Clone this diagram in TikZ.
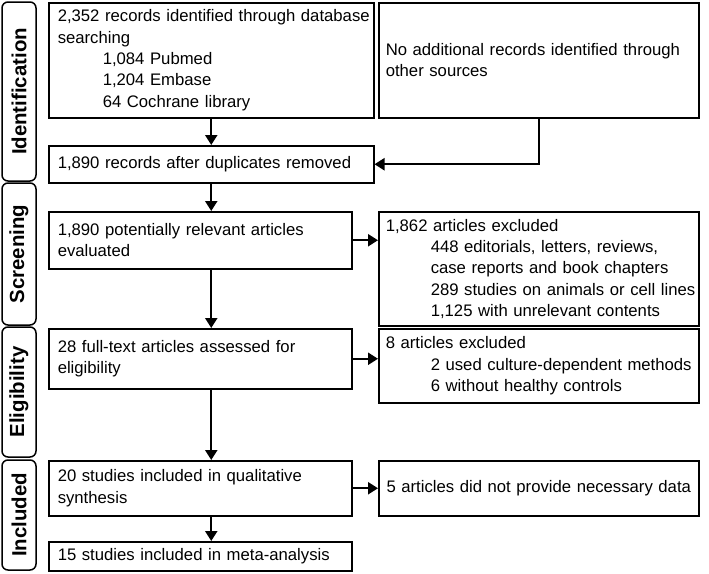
\documentclass[tikz,border=0pt]{standalone}
\usepackage{fontspec}
\setmainfont{Liberation Sans}
\usetikzlibrary{arrows.meta}
\tikzstyle{process} = [rectangle, anchor=north west, draw=black, line width=1.5pt, inner ysep=2pt, align=left, font=\fontsize{16.7pt}{21.3pt}\selectfont]
\tikzstyle{leftcol} = [inner xsep=9pt]
\tikzstyle{rightcol} = [inner xsep=7pt, text width=306pt]
\tikzstyle{phase} = [rectangle, rounded corners=6pt, draw=black, line width=1.5pt, rotate=90, minimum height=34pt, font=\fontsize{20.4pt}{24pt}\selectfont\bfseries]
\tikzstyle{arrow} = [line width=2.2pt, -{Triangle[length=10pt,width=12pt]}]
\newcommand{\ind}{\hspace*{45pt}}

\begin{document}
\begin{tikzpicture}[x=1pt, y=-1pt]
   \useasboundingbox (0,0) rectangle (709,573);

   \node (idf) [phase, minimum width=179pt] at (19,91.5) {Identification};
   \node (scr) [phase, minimum width=142pt] at (19,254) {Screening};
   \node (elg) [phase, minimum width=130pt] at (19,392) {Eligibility};
   \node (inc) [phase, minimum width=110pt] at (19,515) {Included};

   \node (db) [process, leftcol, text width=307pt, minimum height=115pt] at (48,2) {\mbox{2,352 records identified through database}\\searching\\\ind 1,084 Pubmed\\\ind 1,204 Embase\\\ind 64 Cochrane library};
   \node (other) [process, rightcol, minimum height=115pt] at (378,2) {No additional records identified through\\other sources};
   \node (dedup) [process, leftcol, text width=307pt, minimum height=37pt] at (48,145) {1,890 records after duplicates removed};
   \node (screen) [process, leftcol, text width=285pt, minimum height=57pt] at (48,211) {1,890 potentially relevant articles\\evaluated};
   \node (excl1) [process, rightcol, minimum height=114pt] at (378,211) {1,862 articles excluded\\\ind 448 editorials, letters, reviews,\\\ind case reports and book chapters\\\mbox{\ind 289 studies on animals or cell lines}\\\ind 1,125 with unrelevant contents};
   \node (full) [process, leftcol, text width=285pt, minimum height=60pt] at (48,328) {28 full-text articles assessed for\\eligibility};
   \node (excl2) [process, rightcol, minimum height=74pt] at (378,328) {8 articles excluded\\\mbox{\ind 2 used culture-dependent methods}\\\ind 6 without healthy controls};
   \node (qual) [process, leftcol, text width=285pt, minimum height=55pt] at (48,460) {20 studies included in qualitative\\synthesis};
   \node (excl3) [process, rightcol, align=center, minimum height=55pt] at (378,460) {5 articles did not provide necessary data};
   \node (meta) [process, leftcol, text width=285pt, minimum height=29pt] at (48,541) {15 studies included in meta-analysis};

   \draw [arrow] (db) -- (dedup);
   \draw [arrow] (other.south) |- (dedup.east);
   \draw [arrow] (dedup.south) -- (dedup.south |- screen.north);
   \draw [arrow] (screen.east) -- (screen.east -| excl1.west);
   \draw [arrow] (screen.south -| dedup.south) -- (dedup.south |- full.north);
   \draw [arrow] (full.east) -- (full.east -| excl2.west);
   \draw [arrow] (full.south -| dedup.south) -- (dedup.south |- qual.north);
   \draw [arrow] (qual) -- (excl3);
   \draw [arrow] (qual.south -| dedup.south) -- (dedup.south |- meta.north);
\end{tikzpicture}
\end{document}
